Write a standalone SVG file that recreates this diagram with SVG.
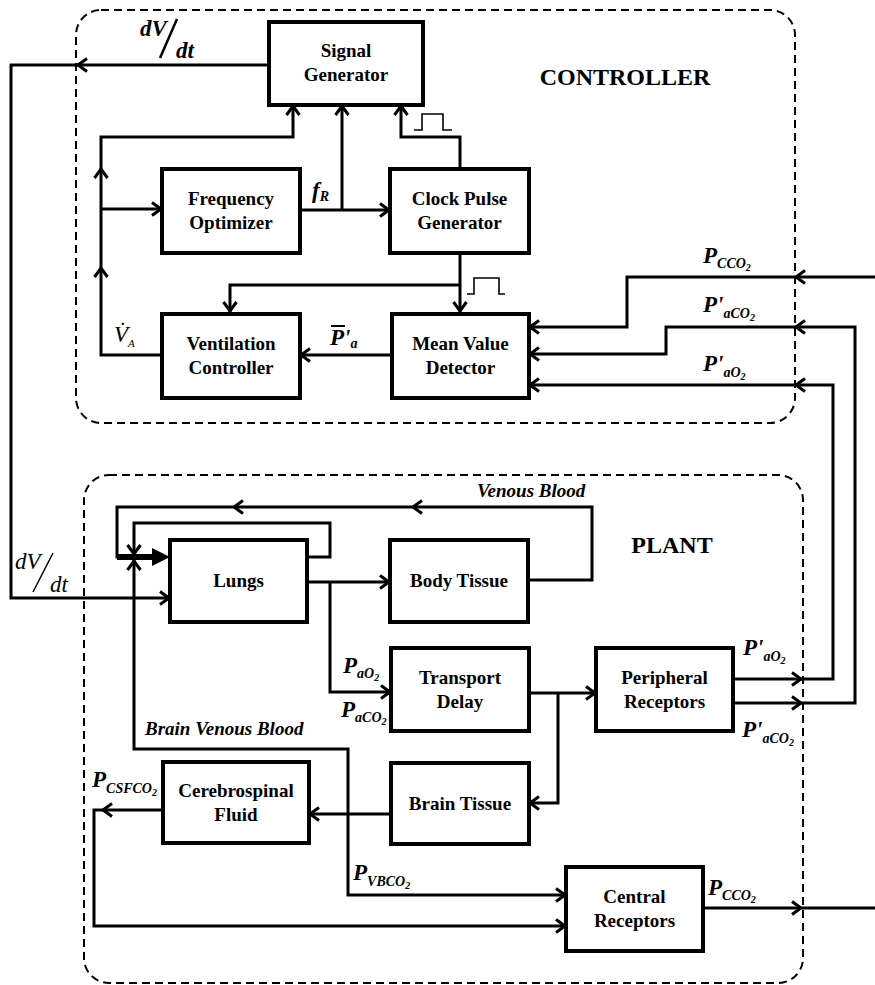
<svg xmlns="http://www.w3.org/2000/svg" xmlns:xlink="http://www.w3.org/1999/xlink" width="875" height="985" viewBox="0 0 875 985">
<style>
.ln{fill:none;stroke:#000;stroke-width:3;stroke-linejoin:miter}
.thin{fill:none;stroke:#000;stroke-width:1.6}
.bx{fill:#fff;stroke:#000;stroke-width:4}
.dash{fill:none;stroke:#000;stroke-width:2;stroke-dasharray:8 5}
.t{font-family:"Liberation Serif",serif;font-size:19px;font-weight:bold;text-anchor:middle;fill:#000}
.big{font-family:"Liberation Serif",serif;font-size:24px;font-weight:bold;text-anchor:middle;fill:#000}
.it{font-family:"Liberation Serif",serif;font-size:19px;font-weight:bold;font-style:italic;fill:#000}
.m{font-family:"Liberation Serif",serif;font-size:23px;font-weight:bold;font-style:italic;fill:#000}
.s{font-size:14px}
.s2{font-size:10px}
.mr{font-family:"Liberation Serif",serif;font-size:23px;font-style:italic;fill:#000}
</style>
<defs>
<path id="ah" d="M-10,-6.5 L-1,0 L-10,6.5" fill="none" stroke="#000" stroke-width="3"/>
</defs>
<rect width="875" height="985" fill="#fff"/>

<g id="controller-frame">
<rect class="dash" x="76" y="10" width="719" height="413" rx="25"/>
<text class="big" x="625" y="85">CONTROLLER</text>
</g>
<g id="plant-frame">
<rect class="dash" x="84" y="475" width="719" height="508" rx="25"/>
<text class="big" x="672" y="553">PLANT</text>
</g>

<g id="signal-generator">
<rect class="bx" x="269" y="22" width="154" height="83"/>
<text class="t" x="346" y="57">Signal</text>
<text class="t" x="346" y="81">Generator</text>
</g>
<g id="frequency-optimizer">
<rect class="bx" x="162" y="169" width="138" height="84"/>
<text class="t" x="231" y="205">Frequency</text>
<text class="t" x="231" y="229">Optimizer</text>
</g>
<g id="clock-pulse-generator">
<rect class="bx" x="390" y="169" width="139" height="84"/>
<text class="t" x="459.5" y="205">Clock Pulse</text>
<text class="t" x="459.5" y="229">Generator</text>
</g>
<g id="ventilation-controller">
<rect class="bx" x="162" y="314" width="138" height="84"/>
<text class="t" x="231" y="350">Ventilation</text>
<text class="t" x="231" y="374">Controller</text>
</g>
<g id="mean-value-detector">
<rect class="bx" x="392" y="314" width="137" height="84"/>
<text class="t" x="460.5" y="350">Mean Value</text>
<text class="t" x="460.5" y="374">Detector</text>
</g>
<g id="lungs">
<rect class="bx" x="170" y="540" width="137" height="82"/>
<text class="t" x="238.5" y="587">Lungs</text>
</g>
<g id="body-tissue">
<rect class="bx" x="390" y="540" width="138" height="82"/>
<text class="t" x="459" y="587">Body Tissue</text>
</g>
<g id="transport-delay">
<rect class="bx" x="391" y="648" width="138" height="83"/>
<text class="t" x="460" y="683.5">Transport</text>
<text class="t" x="460" y="707.5">Delay</text>
</g>
<g id="peripheral-receptors">
<rect class="bx" x="596" y="648" width="137" height="83"/>
<text class="t" x="664.5" y="683.5">Peripheral</text>
<text class="t" x="664.5" y="707.5">Receptors</text>
</g>
<g id="brain-tissue">
<rect class="bx" x="391" y="763" width="138" height="81"/>
<text class="t" x="460" y="810">Brain Tissue</text>
</g>
<g id="cerebrospinal-fluid">
<rect class="bx" x="163" y="762" width="146" height="81"/>
<text class="t" x="236" y="797">Cerebrospinal</text>
<text class="t" x="236" y="821">Fluid</text>
</g>
<g id="central-receptors">
<rect class="bx" x="566" y="867" width="137" height="84"/>
<text class="t" x="634.5" y="903">Central</text>
<text class="t" x="634.5" y="927">Receptors</text>
</g>

<g id="connectors">
<!-- dV/dt from signal generator to lungs -->
<path class="ln" d="M269,65 H11 V598 H170"/>
<use href="#ah" transform="translate(77,65) rotate(180)"/>
<use href="#ah" transform="translate(170,598)"/>
<!-- V_A loop -->
<path class="ln" d="M162,355 H101 V137 H293 V105"/>
<use href="#ah" transform="translate(293,105) rotate(-90)"/>
<use href="#ah" transform="translate(101,168) rotate(-90)"/>
<use href="#ah" transform="translate(101,267) rotate(-90)"/>
<path class="ln" d="M101,209 H162"/>
<use href="#ah" transform="translate(162,209)"/>
<!-- f_R -->
<path class="ln" d="M300,210 H390"/>
<use href="#ah" transform="translate(390,210)"/>
<path class="ln" d="M342,210 V105"/>
<use href="#ah" transform="translate(342,105) rotate(-90)"/>
<!-- clock to signal generator -->
<path class="ln" d="M460,169 V137 H401 V105"/>
<use href="#ah" transform="translate(401,105) rotate(-90)"/>
<path class="thin" d="M414,130 H422 V114 H443 V130 H452"/>
<!-- clock to MVD and VC -->
<path class="ln" d="M460,253 V312"/>
<use href="#ah" transform="translate(460,312) rotate(90)"/>
<path class="ln" d="M460,285 H230 V312"/>
<use href="#ah" transform="translate(230,312) rotate(90)"/>
<path class="thin" d="M467,294 H474 V278 H499 V294 H505"/>
<!-- MVD to VC -->
<path class="ln" d="M392,355 H300"/>
<use href="#ah" transform="translate(300,355) rotate(180)"/>
<!-- inputs to MVD -->
<path class="ln" d="M875,277 H627 V327 H529"/>
<use href="#ah" transform="translate(795,277) rotate(180)"/>
<use href="#ah" transform="translate(529,327) rotate(180)"/>
<path class="ln" d="M733,703 H855 V327 H666 V354 H529"/>
<use href="#ah" transform="translate(795,327) rotate(180)"/>
<use href="#ah" transform="translate(529,354) rotate(180)"/>
<use href="#ah" transform="translate(802,703)"/>
<path class="ln" d="M733,679 H833 V385 H529"/>
<use href="#ah" transform="translate(795,385) rotate(180)"/>
<use href="#ah" transform="translate(529,385) rotate(180)"/>
<use href="#ah" transform="translate(802,679)"/>
<!-- central receptors output -->
<path class="ln" d="M703,908 H875"/>
<use href="#ah" transform="translate(802,908)"/>
<!-- lungs to body tissue -->
<path class="ln" d="M307,582 H390"/>
<use href="#ah" transform="translate(390,582)"/>
<!-- venous blood -->
<path class="ln" d="M528,580 H592 V507 H117 V557 H153"/>
<path d="M117,557 H154" stroke="#000" stroke-width="6" fill="none"/>
<path d="M152,548 L170,557 L152,566 Z" fill="#000"/>
<use href="#ah" transform="translate(233,507) rotate(180)"/>
<use href="#ah" transform="translate(412,507) rotate(180)"/>
<!-- lungs self loop -->
<path class="ln" d="M307,557 H330 V523 H134 V555"/>
<use href="#ah" transform="translate(134,555) rotate(90)"/>
<!-- brain venous blood -->
<path class="ln" d="M566,895 H348 V749 H134 V560"/>
<use href="#ah" transform="translate(134,560) rotate(-90)"/>
<use href="#ah" transform="translate(566,895)"/>
<!-- lungs to transport delay -->
<path class="ln" d="M330,582 V692 H391"/>
<use href="#ah" transform="translate(391,692)"/>
<!-- transport delay to peripheral / brain -->
<path class="ln" d="M529,693 H596"/>
<use href="#ah" transform="translate(596,693)"/>
<path class="ln" d="M558,693 V803 H529"/>
<use href="#ah" transform="translate(529,803) rotate(180)"/>
<!-- brain tissue to CSF -->
<path class="ln" d="M391,814 H309"/>
<use href="#ah" transform="translate(309,814) rotate(180)"/>
<!-- CSF to central receptors -->
<path class="ln" d="M163,810 H94 V926 H566"/>
<use href="#ah" transform="translate(102,810) rotate(180)"/>
<use href="#ah" transform="translate(566,926)"/>
</g>

<g id="labels">
<text class="m" x="140" y="36">dV</text>
<line x1="160" y1="58" x2="177" y2="19" stroke="#000" stroke-width="2.5"/>
<text class="m" x="176" y="58">dt</text>
<text class="mr" x="15" y="569">dV</text>
<line x1="33" y1="592" x2="53" y2="553" stroke="#000" stroke-width="1.5"/>
<text class="mr" x="50" y="592">dt</text>
<text class="m" x="312" y="198">f<tspan class="s" dy="3" font-size="12px">R</tspan></text>
<text class="mr" x="114" y="342">V&#x307;<tspan dy="5" font-size="11px">A</tspan></text>
<text class="m" x="330" y="345">P'<tspan class="s" dy="3">a</tspan></text>
<line x1="331" y1="326" x2="345" y2="326" stroke="#000" stroke-width="2"/>
<text class="m" x="703" y="263">P<tspan class="s" dy="5">CCO</tspan><tspan class="s2" dy="3">2</tspan></text>
<text class="m" x="703" y="312">P'<tspan class="s" dy="6">aCO</tspan><tspan class="s2" dy="3">2</tspan></text>
<text class="m" x="703" y="371">P'<tspan class="s" dy="6">aO</tspan><tspan class="s2" dy="3">2</tspan></text>
<text class="m" x="743" y="655">P'<tspan class="s" dy="6">aO</tspan><tspan class="s2" dy="3">2</tspan></text>
<text class="m" x="742" y="737">P'<tspan class="s" dy="6">aCO</tspan><tspan class="s2" dy="3">2</tspan></text>
<text class="m" x="708" y="895">P<tspan class="s" dy="5">CCO</tspan><tspan class="s2" dy="3">2</tspan></text>
<text class="m" x="343" y="673">P<tspan class="s" dy="5">aO</tspan><tspan class="s2" dy="3">2</tspan></text>
<text class="m" x="341" y="717">P<tspan class="s" dy="5">aCO</tspan><tspan class="s2" dy="3">2</tspan></text>
<text class="m" x="92" y="787">P<tspan class="s" dy="6">CSFCO</tspan><tspan class="s2" dy="3">2</tspan></text>
<text class="m" x="353" y="880">P<tspan class="s" dy="6">VBCO</tspan><tspan class="s2" dy="3">2</tspan></text>
<text class="it" x="477" y="497">Venous Blood</text>
<text class="it" x="145" y="735">Brain Venous Blood</text>
</g>
</svg>
